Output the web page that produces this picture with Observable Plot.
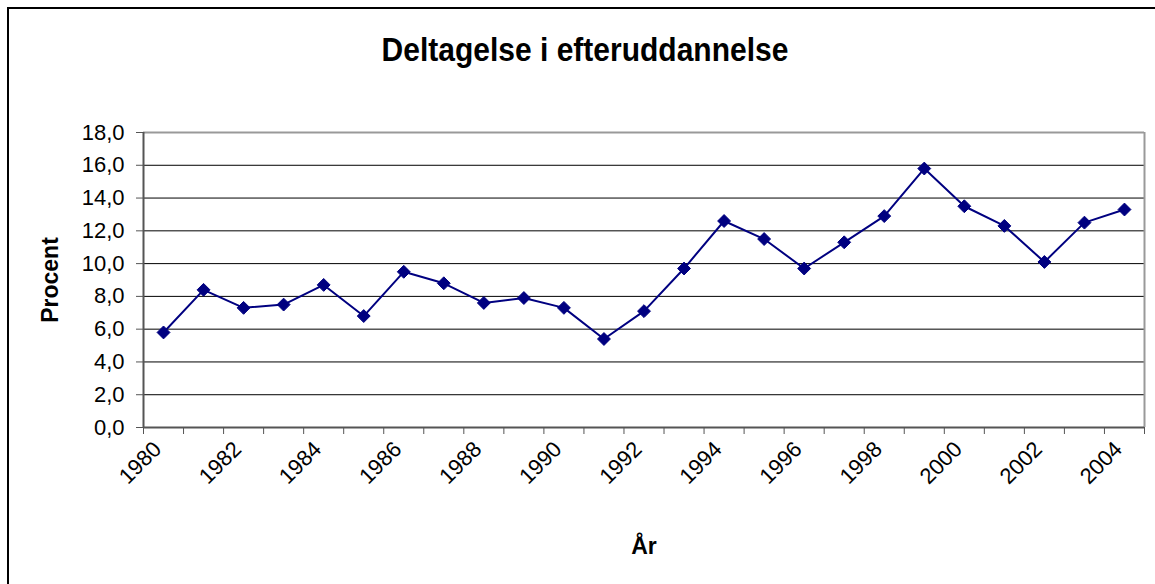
<!DOCTYPE html>
<html><head><meta charset="utf-8">
<script src="https://cdn.jsdelivr.net/npm/d3@7"></script>
<script src="https://cdn.jsdelivr.net/npm/@observablehq/plot@0.6"></script>
<style>
html,body{margin:0;padding:0;background:#fff;overflow:hidden}
#wrap{position:relative;width:1155px;height:584px;overflow:hidden;font-family:"Liberation Sans",Arial,sans-serif}
#border{position:absolute;left:7px;top:7px;width:1200px;height:700px;border:2px solid #000;box-sizing:border-box}
#title{position:absolute;left:0;width:1170px;top:33px;text-align:center;font-weight:bold;font-size:30px;line-height:34px;color:#000;transform:scaleY(1.12);transform-origin:50% 50%}
#chart{position:absolute;left:0;top:0}
</style></head><body>
<div id="wrap"><div id="border"></div><div id="chart"></div><div id="title">Deltagelse i efteruddannelse</div></div>
<script>
const years = [1980,1981,1982,1983,1984,1985,1986,1987,1988,1989,1990,1991,1992,1993,1994,1995,1996,1997,1998,1999,2000,2001,2002,2003,2004];
const values = [5.8,8.4,7.3,7.5,8.7,6.8,9.5,8.8,7.6,7.9,7.3,5.4,7.1,9.7,12.6,11.5,9.7,11.3,12.9,15.8,13.5,12.3,10.1,12.5,13.3];
const yTicks = [0,2,4,6,8,10,12,14,16,18];
const xLabels = [1980,1982,1984,1986,1988,1990,1992,1994,1996,1998,2000,2002,2004];
const xTitle = "År";
const yTitle = "Procent";

const data = years.map((y, i) => ({year: y, value: values[i]}));
const bounds = years.map(y => y - 0.5).concat([years[years.length - 1] + 0.5]);
const fmt = d => d.toFixed(1).replace(".", ",");

const chart = Plot.plot({
  width: 1155,
  height: 584,
  marginLeft: 143,
  marginRight: 11,
  marginTop: 132,
  marginBottom: 157,
  style: {fontFamily: "'Liberation Sans', Arial, sans-serif", fontSize: "22px", background: "transparent", color: "#000"},
  x: {type: "linear", domain: [bounds[0], bounds[bounds.length - 1]]},
  y: {domain: [0, 18]},
  marks: [
    Plot.ruleY(yTicks.filter(d => d > 0 && d < 18), {stroke: "#000", strokeWidth: 1}),
    Plot.ruleY([18], {stroke: "#999", strokeWidth: 2}),
    Plot.ruleX([bounds[bounds.length - 1]], {stroke: "#999", strokeWidth: 2}),
    Plot.axisY({ticks: yTicks, tickFormat: fmt, tickSize: 7, tickPadding: 12, label: null, stroke: "#555", fontSize: 22}),
    Plot.axisX({ticks: bounds, tickFormat: () => "", tickSize: 7, label: null, stroke: "#555"}),
    Plot.text(xLabels, {x: d => d, text: d => String(d), frameAnchor: "bottom", rotate: -45, textAnchor: "end", lineAnchor: "top", dx: -12, dy: 12, fontSize: 22}),
    Plot.ruleX([bounds[0]], {stroke: "#555", strokeWidth: 2}),
    Plot.ruleY([0], {stroke: "#555", strokeWidth: 2}),
    Plot.line(data, {x: "year", y: "value", stroke: "#000080", strokeWidth: 2}),
    Plot.dot(data, {x: "year", y: "value", symbol: "diamond2", r: 5.8, fill: "#000080", stroke: "#000080", strokeWidth: 1}),
    Plot.text([xTitle], {frameAnchor: "bottom", textAnchor: "middle", dy: 126, fontWeight: "bold", fontSize: 23, lineAnchor: "bottom"}),
    Plot.text([yTitle], {frameAnchor: "left", textAnchor: "middle", lineAnchor: "middle", dx: -93, rotate: -90, fontWeight: "bold", fontSize: 23})
  ]
});
document.getElementById("chart").appendChild(chart);
</script>
</body></html>
